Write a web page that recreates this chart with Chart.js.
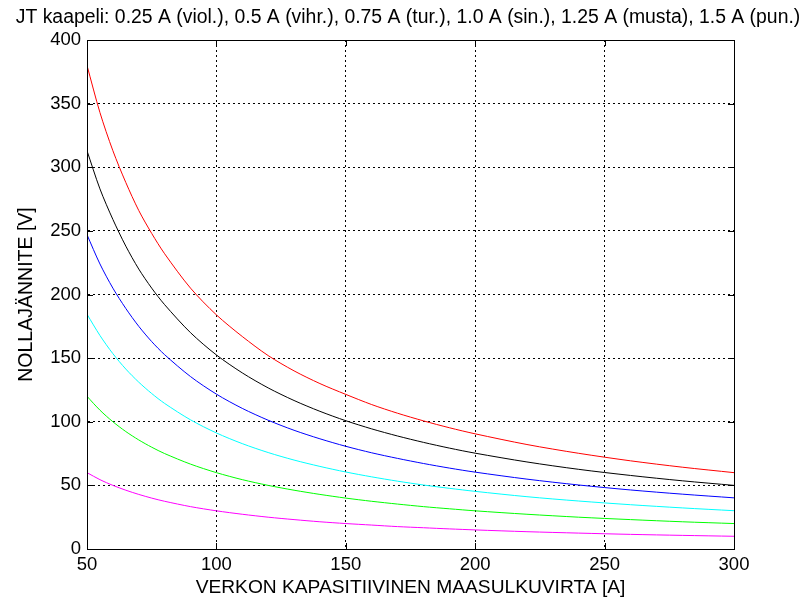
<!DOCTYPE html>
<html>
<head>
<meta charset="utf-8">
<script src="https://cdn.jsdelivr.net/npm/chart.js@4.4.1/dist/chart.umd.min.js"></script>
<style>
html,body{margin:0;padding:0;background:#fff;}
canvas{display:block;}
</style>
</head>
<body>
<canvas id="c" width="805" height="605"></canvas>
<script>
const currents = [50,55,60,65,70,75,80,90,100,110,120,130,140,150,160,170,180,190,200,220,240,260,280,300];
const red     = [380,343,313,288,266,248,232,205,184,167,152,140,130,121.5,113.5,106.7,100.7,95.3,90.5,82.1,75.2,69.3,64.3,60];
const black   = [313,283,259,238,220,205,192,170,152.5,138.4,126.6,116.7,108.2,100.8,94.4,88.8,83.8,79.3,75.3,68.4,62.6,57.8,53.6,50];
const blue    = [247,224,205,189,175,163,152.7,135.5,121.7,110.5,101.2,93.3,86.6,80.7,75.6,71.2,67.2,63.6,60.4,54.9,50.3,46.4,43.1,40.2];
const cyan    = [184.5,167.8,153.5,141.4,131.1,122.2,114.4,101.5,91.2,82.8,75.8,69.9,64.9,60.5,56.7,53.3,50.3,47.7,45.3,41.1,37.7,34.8,32.3,30.1];
const green   = [120,109.1,100,92.3,85.7,80,75,66.7,60,54.5,50,46.2,42.9,40,37.5,35.3,33.3,31.6,30,27.3,25,23.1,21.4,20];
const magenta = [60,54.5,50,46.2,42.9,40,37.5,33.3,30,27.3,25,23.1,21.4,20,18.8,17.6,16.7,15.8,15,13.6,12.5,11.5,10.7,10];
const xTicks = [50,100,150,200,250,300];
const yTicks = [0,50,100,150,200,250,300,350,400];
const titleText = 'JT kaapeli: 0.25 A (viol.), 0.5 A (vihr.), 0.75 A (tur.), 1.0 A (sin.), 1.25 A (musta), 1.5 A (pun.)';
const xTitle = 'VERKON KAPASITIIVINEN MAASULKUVIRTA [A]';
const yTitle = 'NOLLAJÄNNITE [V]';

const FONT = "'Liberation Sans', Arial, Helvetica, sans-serif";
function mk(arr, color){
  return {data: currents.map((x,i)=>({x:x,y:arr[i]})), borderColor:color, borderWidth:1, pointRadius:0, fill:false, tension:0.3};
}
const boxPlugin = {
  id:'box',
  afterDraw(chart){
    const {ctx, chartArea:a, scales} = chart;
    ctx.save();
    ctx.strokeStyle='#000'; ctx.lineWidth=1;
    ctx.setLineDash([]);
    ctx.beginPath();
    xTicks.forEach(v=>{
      const px = Math.round(scales.x.getPixelForValue(v))+0.5;
      ctx.moveTo(px,a.bottom); ctx.lineTo(px,a.bottom-6);
      ctx.moveTo(px,a.top); ctx.lineTo(px,a.top+6);
    });
    yTicks.forEach(v=>{
      const py = Math.round(scales.y.getPixelForValue(v))+0.5;
      ctx.moveTo(a.left,py); ctx.lineTo(a.left+6,py);
      ctx.moveTo(a.right,py); ctx.lineTo(a.right-6,py);
    });
    ctx.stroke();
    ctx.strokeRect(Math.round(a.left)+0.5, Math.round(a.top)+0.5, Math.round(a.right-a.left), Math.round(a.bottom-a.top));
    // chart title
    ctx.fillStyle='#000';
    ctx.font = "19.4px " + FONT;
    ctx.textAlign='center'; ctx.textBaseline='alphabetic';
    ctx.fillText(titleText, 408, 23);
    ctx.restore();
  }
};
new Chart(document.getElementById('c'), {
  type:'line',
  data:{datasets:[mk(magenta,'#ff00ff'),mk(green,'#00ff00'),mk(cyan,'#00ffff'),mk(blue,'#0000ff'),mk(black,'#000000'),mk(red,'#ff0000')]},
  options:{
    responsive:false, animation:false,
    layout:{padding:{left:0,right:71,top:40,bottom:0}},
    plugins:{
      legend:{display:false}, tooltip:{enabled:false}, title:{display:false}
    },
    scales:{
      x:{type:'linear', min:50, max:300,
        afterBuildTicks(s){ s.ticks = xTicks.map(v=>({value:v})); },
        afterFit(s){ s.height = 56; },
        ticks:{color:'#000', font:{family:FONT,size:18.5}, padding:4.5, maxRotation:0},
        grid:{color:'#000', lineWidth:1, drawTicks:false, tickLength:0},
        border:{display:true,color:'#000', dash:[2,3]},
        title:{display:true, text:xTitle, color:'#000', font:{family:FONT,size:19.2}, padding:{top:5.5,bottom:5.5}}
      },
      y:{type:'linear', min:0, max:400,
        afterBuildTicks(s){ s.ticks = yTicks.map(v=>({value:v})); },
        afterFit(s){ s.width = 87; },
        ticks:{color:'#000', font:{family:FONT,size:18.5}, padding:6},
        grid:{color:'#000', lineWidth:1, drawTicks:false, tickLength:0},
        border:{display:true,color:'#000', dash:[2,3]},
        title:{display:true, text:yTitle, color:'#000', font:{family:FONT,size:19.5}, padding:{top:15,bottom:15}}
      }
    }
  },
  plugins:[boxPlugin]
});
</script>
</body>
</html>
